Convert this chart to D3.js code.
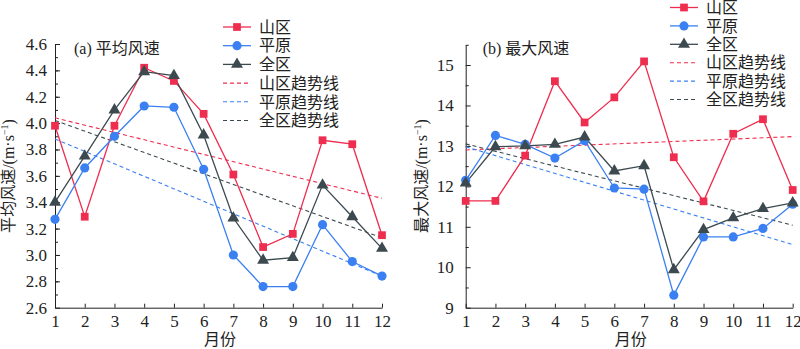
<!DOCTYPE html>
<html>
<head>
<meta charset="utf-8">
<script src="https://cdn.jsdelivr.net/npm/d3@7"></script>
<style>
  body { margin: 0; background: #fff; }
  svg { display: block; font-family: "Liberation Serif", "Noto Sans CJK SC", serif; }
  .axis path, .axis line { stroke: #222; stroke-width: 1; }
  .axis text { font-size: 17px; fill: #222; font-family: "Liberation Serif", serif; }
</style>
</head>
<body>
<div id="chart"></div>
<script>
// months on the x axis
var months = [1, 2, 3, 4, 5, 6, 7, 8, 9, 10, 11, 12];

// (a) mean wind speed, m/s
var avgMountain = [3.98, 3.29, 3.98, 4.42, 4.32, 4.07, 3.61, 3.06, 3.16, 3.87, 3.84, 3.15];
var avgPlain    = [3.27, 3.66, 3.90, 4.13, 4.12, 3.65, 3.00, 2.76, 2.76, 3.23, 2.95, 2.84];
var avgAll      = [3.40, 3.75, 4.10, 4.39, 4.36, 3.91, 3.28, 2.96, 2.98, 3.53, 3.29, 3.05];
// trend line values at month 1 and month 12
var avgTrendMountain = [4.04, 3.43];
var avgTrendPlain    = [3.88, 2.84];
var avgTrendAll      = [4.02, 3.13];

// (b) max wind speed, m/s
var maxMountain = [11.64, 11.64, 12.76, 14.60, 13.58, 14.20, 15.09, 12.72, 11.63, 13.30, 13.66, 11.91];
var maxPlain    = [12.15, 13.26, 13.04, 12.70, 13.13, 11.96, 11.93, 9.31, 10.75, 10.75, 10.96, 11.56];
var maxAll      = [12.08, 12.98, 13.00, 13.04, 13.22, 12.38, 12.51, 9.94, 10.93, 11.22, 11.45, 11.59];
var maxTrendMountain = [12.90, 13.23];
var maxTrendPlain    = [12.98, 10.56];
var maxTrendAll      = [13.05, 11.04];

// tick values
var avgTicks = [2.6, 2.8, 3.0, 3.2, 3.4, 3.6, 3.8, 4.0, 4.2, 4.4, 4.6];
var maxTicks = [9, 10, 11, 12, 13, 14, 15];

var seriesNames = ["山区", "平原", "全区"];
var trendNames = ["山区趋势线", "平原趋势线", "全区趋势线"];

var colors = ["#ee2d4f", "#3a80f2", "#3c4a50"];
var symbols = [d3.symbolSquare, d3.symbolCircle, d3.symbolTriangle];
var symbolSizes = [60, 66, 62];

var width = 800, height = 349;

var svg = d3.select("#chart")
  .append("svg")
  .attr("width", width)
  .attr("height", height);

svg.append("rect").attr("width", width).attr("height", height).attr("fill", "#fff");

function drawPanel(opt) {
  var x = d3.scaleLinear().domain([1, 12]).range([opt.left, opt.left + 327]);
  var y = d3.scaleLinear().domain(opt.domain).range([307.7, opt.top]);

  var g = svg.append("g");

  // x axis, ticks pointing inward
  var xg = g.append("g")
    .attr("class", "axis")
    .attr("transform", "translate(0," + y.range()[0] + ")")
    .call(d3.axisBottom(x).tickValues(months).tickFormat(d3.format("d"))
      .tickSizeInner(-4).tickSizeOuter(0).tickPadding(7));
  xg.attr("font-family", null);

  // minor y ticks
  g.append("g")
    .attr("class", "axis")
    .attr("transform", "translate(" + opt.left + ",0)")
    .call(d3.axisLeft(y).tickValues(opt.minor).tickFormat("")
      .tickSizeInner(-3).tickSizeOuter(0))
    .select(".domain").remove();

  // major y ticks
  var yg = g.append("g")
    .attr("class", "axis")
    .attr("transform", "translate(" + opt.left + ",0)")
    .call(d3.axisLeft(y).tickValues(opt.ticks).tickFormat(opt.format)
      .tickSizeInner(-5).tickSizeOuter(0).tickPadding(opt.pad));
  yg.attr("font-family", null);

  // trend lines
  opt.trends.forEach(function(t, i) {
    g.append("line")
      .attr("x1", x(1)).attr("y1", y(t[0]))
      .attr("x2", x(12)).attr("y2", y(t[1]))
      .attr("stroke", colors[i])
      .attr("stroke-width", 1.1)
      .attr("stroke-dasharray", "4,3");
  });

  // series lines and markers
  var line = d3.line()
    .x(function(d, i) { return x(months[i]); })
    .y(function(d) { return y(d); });

  opt.series.forEach(function(s, i) {
    g.append("path")
      .datum(s)
      .attr("d", line)
      .attr("fill", "none")
      .attr("stroke", colors[i])
      .attr("stroke-width", 1.3);
  });
  opt.series.forEach(function(s, i) {
    g.selectAll(null)
      .data(s)
      .enter()
      .append("path")
      .attr("d", d3.symbol().type(symbols[i]).size(symbolSizes[i]))
      .attr("transform", function(d, j) { return "translate(" + x(months[j]) + "," + y(d) + ")"; })
      .attr("fill", colors[i]);
  });

  // panel title
  g.append("text")
    .attr("x", opt.left + opt.titleDx)
    .attr("y", 54)
    .attr("font-size", 16)
    .attr("fill", "#222")
    .text(opt.title);

  // x axis title
  g.append("text")
    .attr("x", opt.left + 165)
    .attr("y", 345)
    .attr("text-anchor", "middle")
    .attr("font-size", 16)
    .attr("fill", "#222")
    .text("月份");

  // y axis title
  var yt = g.append("text")
    .attr("transform", "translate(" + opt.ylabelX + ",176) rotate(-90)")
    .attr("text-anchor", "middle")
    .attr("font-size", 16)
    .attr("fill", "#222");
  yt.append("tspan").text(opt.ylabel + "/(m·s");
  yt.append("tspan").attr("font-size", 10).attr("dy", -6).text("−1");
  yt.append("tspan").attr("dy", 6).text(")");

  // legend
  var lg = g.append("g");
  seriesNames.concat(trendNames).forEach(function(name, k) {
    var ry = opt.legY + k * opt.legStep;
    var c = colors[k % 3];
    var row = lg.append("g");
    row.append("line")
      .attr("x1", opt.legX).attr("x2", opt.legX + 28)
      .attr("y1", ry).attr("y2", ry)
      .attr("stroke", c)
      .attr("stroke-width", k < 3 ? 1.3 : 1.1)
      .attr("stroke-dasharray", k < 3 ? null : "4,3");
    if (k < 3) {
      row.append("path")
        .attr("d", d3.symbol().type(symbols[k]).size(symbolSizes[k]))
        .attr("transform", "translate(" + (opt.legX + 14) + "," + ry + ")")
        .attr("fill", c);
    }
    row.append("text")
      .attr("x", opt.legX + 36)
      .attr("y", ry)
      .attr("dy", "0.36em")
      .attr("font-size", 16)
      .attr("fill", "#222")
      .text(name);
  });
}

drawPanel({
  left: 55,
  top: 44,
  domain: [2.6, 4.6],
  ticks: avgTicks,
  minor: d3.range(27, 46).map(function(v) { return v / 10; }),
  format: d3.format(".1f"),
  pad: 8,
  series: [avgMountain, avgPlain, avgAll],
  trends: [avgTrendMountain, avgTrendPlain, avgTrendAll],
  title: "(a) 平均风速",
  titleDx: 19,
  ylabel: "平均风速",
  ylabelX: 14,
  legX: 223,
  legY: 27,
  legStep: 18.7
});

drawPanel({
  left: 465.7,
  top: 44.8,
  domain: [9, 15.5],
  ticks: maxTicks,
  minor: [9.5, 10.5, 11.5, 12.5, 13.5, 14.5, 15.5],
  format: d3.format("d"),
  pad: 12,
  series: [maxMountain, maxPlain, maxAll],
  trends: [maxTrendMountain, maxTrendPlain, maxTrendAll],
  title: "(b) 最大风速",
  titleDx: 17,
  ylabel: "最大风速",
  ylabelX: 427,
  legX: 670,
  legY: 7.5,
  legStep: 18.4
});
</script>
</body>
</html>
